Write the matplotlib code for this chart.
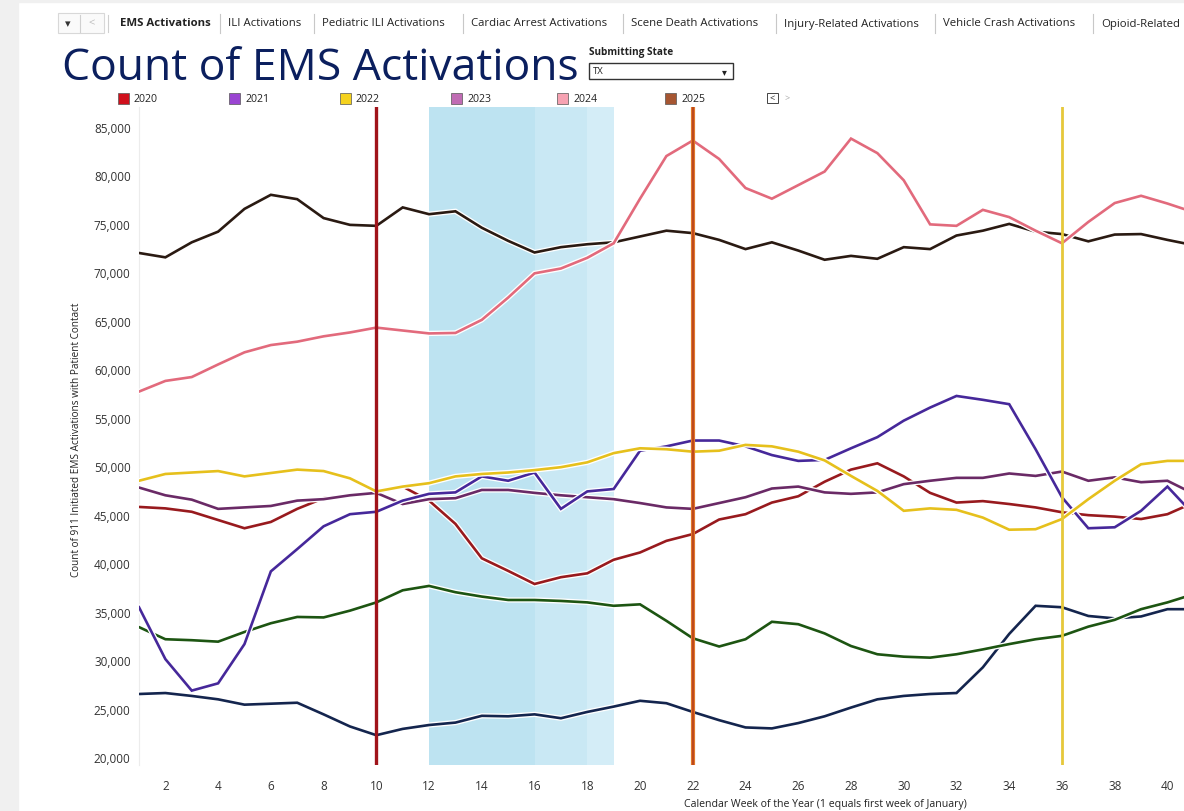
import numpy as np
import matplotlib
matplotlib.use("Agg")
import matplotlib.pyplot as plt
import matplotlib.patches as mpatches
import matplotlib.patheffects as pe

plt.rcParams['font.family'] = ['Open Sans', 'DejaVu Sans']

W, H = 1184, 812

# Weeks 1..41 (last one is cut by the right edge)
weeks = list(range(1, 42))

s2024 = [57700, 58800, 59200, 60500, 61750, 62500, 62850, 63400, 63800, 64300,
         64000, 63700, 63750, 65100, 67400, 69900, 70400, 71500, 73000, 77600,
         82000, 83600, 81700, 78700, 77600, 79000, 80400, 83800, 82300, 79500,
         74950, 74800, 76450, 75700, 74300, 73000, 75200, 77150, 77900, 77100, 76200]
s2025 = [72000, 71550, 73100, 74200, 76550, 78000, 77550, 75600, 74900, 74800,
         76700, 76000, 76300, 74600, 73250, 72050, 72600, 72900, 73100, 73700,
         74300, 74050, 73350, 72400, 73100, 72250, 71300, 71700, 71400, 72600,
         72400, 73800, 74300, 75000, 74200, 73950, 73200, 73900, 73950, 73350, 72800]
s2022 = [48500, 49200, 49350, 49500, 48950, 49300, 49650, 49500, 48750, 47400,
         47900, 48250, 48950, 49200, 49350, 49600, 49900, 50400, 51350, 51850,
         51750, 51500, 51600, 52200, 52050, 51500, 50600, 49000, 47450, 45400,
         45650, 45500, 44700, 43450, 43500, 44550, 46600, 48500, 50200, 50550, 50550]
s2021 = [35450, 30100, 26850, 27600, 31650, 39150, 41450, 43800, 45050, 45300,
         46450, 47150, 47300, 48950, 48500, 49350, 45600, 47400, 47650, 51600,
         52050, 52650, 52650, 52050, 51150, 50550, 50650, 51850, 53000, 54700,
         56050, 57250, 56850, 56400, 51750, 46800, 43600, 43700, 45400, 47900, 45000]
s2023 = [47800, 47000, 46550, 45600, 45750, 45900, 46450, 46600, 47000, 47250,
         46100, 46600, 46700, 47550, 47550, 47250, 47000, 46800, 46600, 46200,
         45750, 45600, 46200, 46800, 47700, 47900, 47300, 47150, 47300, 48150,
         48500, 48800, 48800, 49250, 49000, 49450, 48500, 48850, 48350, 48500, 47150]
s2020 = [45800, 45650, 45300, 44450, 43600, 44250, 45600, 46700, 47000, 47300,
         47900, 46450, 44050, 40500, 39200, 37850, 38550, 38950, 40350, 41100,
         42300, 43000, 44500, 45050, 46250, 46900, 48400, 49650, 50300, 48950,
         47250, 46250, 46400, 46100, 45750, 45250, 44950, 44800, 44550, 45050, 46250]
s_green = [33400, 32150, 32050, 31900, 32900, 33800, 34450, 34400, 35100, 35950,
           37200, 37650, 37000, 36550, 36200, 36200, 36100, 35950, 35600, 35750,
           34050, 32250, 31400, 32150, 33950, 33700, 32750, 31450, 30600, 30350,
           30250, 30600, 31100, 31650, 32150, 32500, 33450, 34150, 35250, 35950, 36800]
s_navy = [26500, 26600, 26300, 25950, 25400, 25500, 25600, 24400, 23150, 22250,
          22900, 23300, 23550, 24250, 24200, 24400, 24000, 24650, 25200, 25800,
          25550, 24650, 23800, 23050, 22950, 23500, 24200, 25100, 25950, 26300,
          26500, 26600, 29250, 32700, 35600, 35450, 34550, 34300, 34500, 35250, 35250]

series = [
    (s_navy, '#14254e'),
    (s_green, '#1d5512'),
    (s2020, '#981a1e'),
    (s2023, '#6a2a66'),
    (s2021, '#46289a'),
    (s2022, '#e6c01c'),
    (s2025, '#2a1a12'),
    (s2024, '#e26a7c'),
]

legend_years = ['2020', '2021', '2022', '2023', '2024', '2025']
legend_colors = ['#d0101c', '#9a44d2', '#f5d21e', '#c06cb4', '#f6a2b2', '#a65632']
legend_px = [118, 229, 340, 451, 557, 665]

tabs = ['EMS Activations', 'ILI Activations', 'Pediatric ILI Activations',
        'Cardiac Arrest Activations', 'Scene Death Activations',
        'Injury-Related Activations', 'Vehicle Crash Activations', 'Opioid-Related']
tab_px = [120, 228, 322, 471, 631, 784, 943, 1101]

event_weeks = [10, 22, 36]
event_colors = ['#a0141a', '#e0782a', '#e6c83a']
shade_spans = [(12, 16, '#bde3f1'), (16, 18, '#c9e8f4'), (18, 19, '#d4edf7')]


def fx(px):
    return px / W


def fy(py):
    return 1 - py / H


fig = plt.figure(figsize=(W / 100, H / 100), dpi=100)
fig.patch.set_facecolor('white')

# light gray frame of the dashboard screenshot
fig.add_artist(mpatches.Rectangle((0, fy(3)), 1, 1 - fy(3), transform=fig.transFigure,
                                  color='#f0f0f0', zorder=0))
fig.add_artist(mpatches.Rectangle((0, 0), fx(18), 1, transform=fig.transFigure,
                                  color='#f0f0f0', zorder=0))

ax = fig.add_axes([fx(139), 1 - 766 / H, (W - 139) / W, (766 - 108) / H])

for a, b, c in shade_spans:
    ax.axvspan(a, b, color=c, lw=0, zorder=0)

halo = [pe.Stroke(linewidth=3.8, foreground='white'), pe.Normal()]
for vals, col in series:
    ax.plot(weeks, vals, color=col, lw=1.9, zorder=3, path_effects=halo,
            solid_joinstyle='miter')

ax.axvline(event_weeks[0], color=event_colors[0], lw=2.4, zorder=4)
ax.axvline(event_weeks[1], color=event_colors[1], lw=3.0, zorder=4)
ax.axvline(event_weeks[1], color='#b8401a', lw=1.2, zorder=4)
ax.axvline(event_weeks[2], color=event_colors[2], lw=2.0, zorder=4)

ax.set_xlim(1, 1 + (W - 139) / 26.37)
ax.set_ylim(19175, 87060)
ax.set_xticks(range(2, 41, 2))
ax.set_yticks(range(20000, 85001, 5000))
ax.yaxis.set_major_formatter(matplotlib.ticker.FuncFormatter(lambda v, p: f'{int(v):,}'))
ax.tick_params(axis='both', length=0, labelsize=8.5, colors='#333333')
ax.tick_params(axis='x', pad=10)
ax.tick_params(axis='y', pad=6)
for sp in ['top', 'right', 'bottom']:
    ax.spines[sp].set_visible(False)
ax.spines['left'].set_color('#ececec')
ax.set_facecolor('white')

fig.text(fx(77), fy(440), 'Count of 911 Initiated EMS Activations with Patient Contact',
         rotation=90, ha='center', va='center', fontsize=7.2, color='#222222')
fig.text(fx(825), fy(805), 'Calendar Week of the Year (1 equals first week of January)',
         ha='center', va='center', fontsize=7.6, color='#222222')

# title
fig.text(fx(62), fy(69), 'Count of EMS Activations', ha='left', va='center',
         fontsize=32, color='#0b1f5e')

# tab strip
fig.add_artist(mpatches.Rectangle((fx(58), fy(34)), fx(46), fy(14) - fy(34),
                                  transform=fig.transFigure, facecolor='#fafafa',
                                  edgecolor='#d8d8d8', lw=0.8, zorder=1))
fig.text(fx(68), fy(24), '▾', ha='center', va='center', fontsize=8, color='#333333',
         family=['DejaVu Sans'])
fig.text(fx(92), fy(24), '<', ha='center', va='center', fontsize=8, color='#bbbbbb')
for sx in [80, 108]:
    fig.add_artist(plt.Line2D([fx(sx), fx(sx)], [fy(16), fy(33)], transform=fig.transFigure,
                              color='#d0d0d0', lw=0.8))
for i, (t, px) in enumerate(zip(tabs, tab_px)):
    fig.text(fx(px), fy(24), t, ha='left', va='center', fontsize=8.2, color='#222222',
             fontweight='bold' if i == 0 else 'normal')
    if i > 0:
        fig.add_artist(plt.Line2D([fx(px - 8), fx(px - 8)], [fy(15), fy(34)],
                                  transform=fig.transFigure, color='#c8c8c8', lw=0.8))

# state filter
fig.text(fx(589), fy(53), 'Submitting State', ha='left', va='center', fontsize=7.2,
         fontweight='bold', color='#222222')
fig.add_artist(mpatches.Rectangle((fx(589), fy(80)), fx(733) - fx(589), fy(64) - fy(80),
                                  transform=fig.transFigure, facecolor='white',
                                  edgecolor='#333333', lw=1.0))
fig.text(fx(593), fy(72), 'TX', ha='left', va='center', fontsize=6.8, color='#222222')
fig.text(fx(724), fy(72), '▾', ha='center', va='center', fontsize=7, color='#222222',
         family=['DejaVu Sans'])

# legend
for yr, col, px in zip(legend_years, legend_colors, legend_px):
    fig.add_artist(mpatches.Rectangle((fx(px), fy(105)), fx(11), fy(94) - fy(105),
                                      transform=fig.transFigure, facecolor=col,
                                      edgecolor='#555555', lw=0.5))
    fig.text(fx(px + 16), fy(99.5), yr, ha='left', va='center', fontsize=7.6, color='#222222')
fig.add_artist(mpatches.Rectangle((fx(767), fy(104)), fx(11), fy(94) - fy(104),
                                  transform=fig.transFigure, facecolor='white',
                                  edgecolor='#444444', lw=0.7))
fig.text(fx(772.5), fy(99), '<', ha='center', va='center', fontsize=6.5, color='#222222')
fig.text(fx(787), fy(99), '>', ha='center', va='center', fontsize=6.5, color='#aaaaaa')

fig.savefig('out.png', dpi=100)
